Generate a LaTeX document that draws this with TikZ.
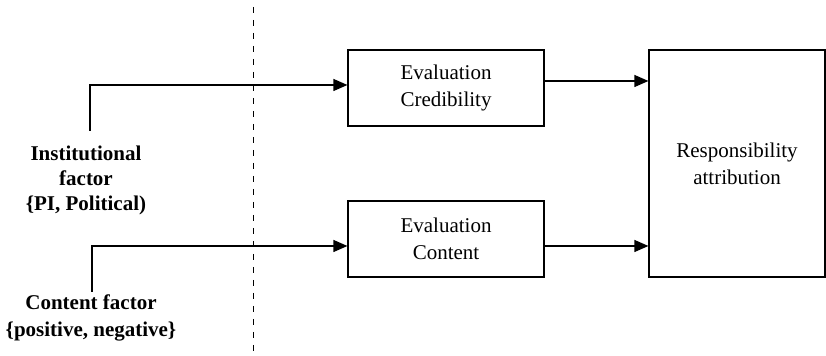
\documentclass[tikz,border=0pt]{standalone}
\usepackage{fontspec}
\setmainfont{Liberation Serif}
\usetikzlibrary{arrows.meta, positioning}

\tikzset{
	evalbox/.style={draw, line width=0.6pt, minimum width=98pt, minimum height=38pt, align=center, inner sep=0pt},
	factor/.style={align=center, font=\bfseries, inner sep=0pt},
	flow/.style={line width=0.6pt, -{Triangle[length=7pt, width=6pt]}},
	wire/.style={line width=0.6pt}
}

\begin{document}
\begin{tikzpicture}[x=0.5pt, y=-0.5pt, font=\fontsize{10.5}{13.5}\selectfont]
			% Frame of the picture:
			\useasboundingbox (0, 0) rectangle (826, 356);
			% Boxes and labels:
			\node[evalbox] (credibility) at (446, 88){Evaluation\\Credibility};
			\node[evalbox] (content) at (446, 239){Evaluation\\Content};
			\node[draw, line width=0.6pt, minimum width=88pt, minimum height=113.5pt, align=center, inner sep=0pt] (responsibility) at (737, 163.5){Responsibility\\attribution};
			\node[factor, anchor=north, font=\fontsize{10.5}{12.5}\selectfont\bfseries] (institutional) at (86, 146){Institutional\\factor\\\{PI, Political)};
			\node[factor, anchor=north, font=\fontsize{10.5}{13.5}\selectfont\bfseries] (contentfactor) at (91, 294){Content factor\\\{positive, negative\}};
			% Wires:
			\coordinate (i1) at (90, 131);
			\coordinate (c1) at (92, 292);
			\draw[flow] (i1) |- (credibility.west |- 0, 85);
			\draw[flow] (c1) |- (content.west |- 0, 246);
			\draw[flow] (credibility.east |- 0, 81) -- (responsibility.west |- 0, 81);
			\draw[flow] (content.east |- 0, 246) -- (responsibility.west |- 0, 246);
			% Dividing line:
			\coordinate (d1) at (253, 7);
			\coordinate (d2) at (253, 354);
			\draw[line width=0.5pt, dash pattern=on 3pt off 3.5pt] (d1) -- (d2);
		\end{tikzpicture}
\end{document}
